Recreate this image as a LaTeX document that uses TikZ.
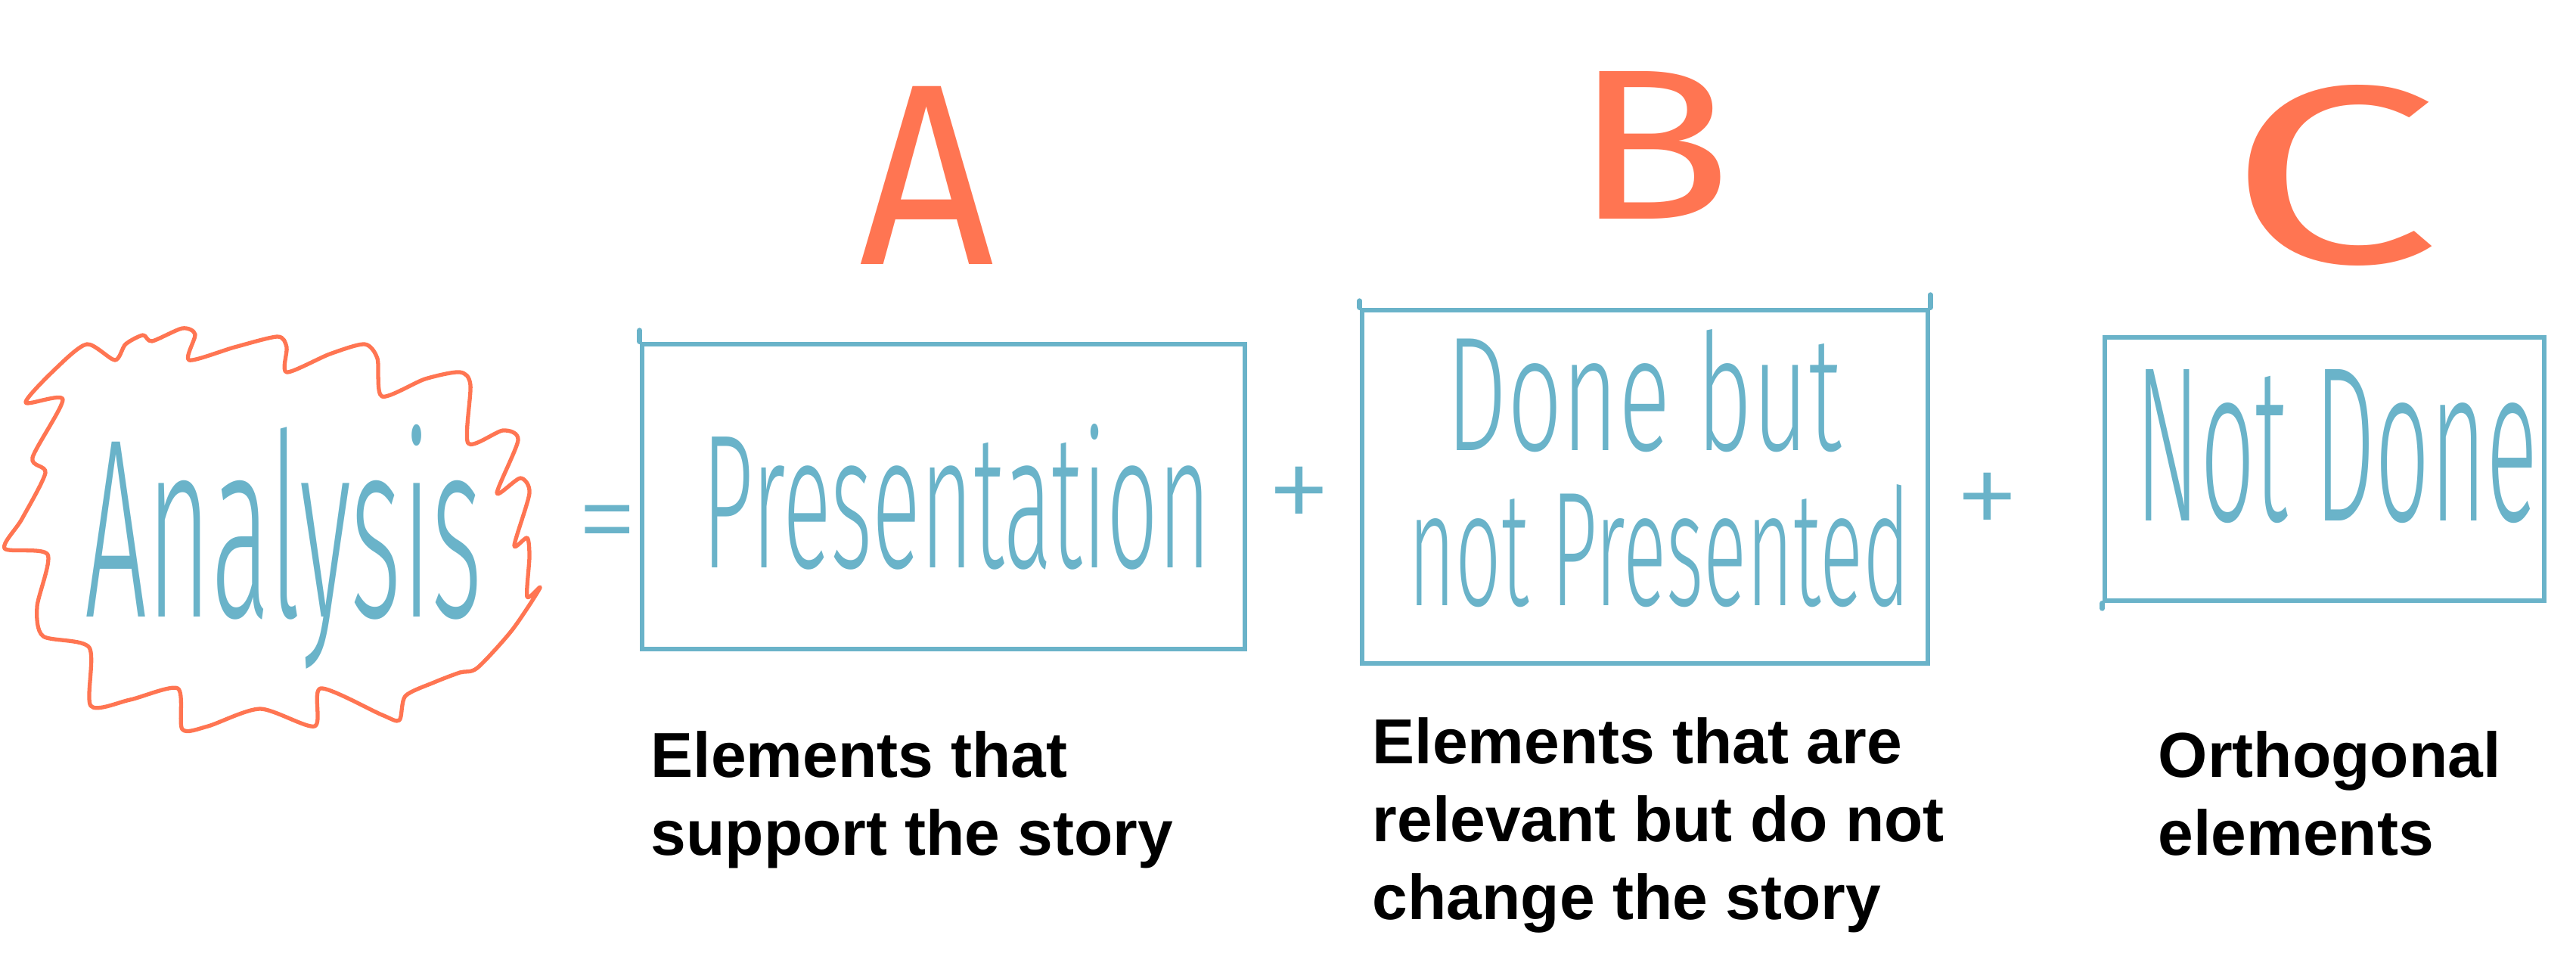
\documentclass[tikz,border=0pt]{standalone}
\usepackage{fontspec}
\usepackage{graphicx}
\setmainfont{Liberation Sans}
\newfontfamily\handfont{Fira Sans Light}
\newfontfamily\penfont{Fira Sans}
\usetikzlibrary{calc}
\definecolor{penteal}{HTML}{6AB3C9}
\definecolor{penorange}{HTML}{FF7552}
\tikzset{
	penbox/.style={draw=penteal,line width=1.9pt,inner sep=0pt},
	pentick/.style={draw=penteal,line width=1.9pt,line cap=round},
	handtext/.style={text=penteal,inner sep=0pt,font=\handfont},
	bigletter/.style={text=penorange,inner sep=0pt,font=\penfont},
	caption/.style={align=left,inner sep=0pt,anchor=north west,
		font=\fontsize{23.9pt}{29.3pt}\selectfont\bfseries},
	cloudline/.style={draw=penorange,line width=1.5pt,line join=round}
}

\begin{document}
\begin{tikzpicture}[x=1cm,y=-1cm]
	\useasboundingbox (0,0) rectangle (34.06,12.73);
	% the analysis cloud
	\draw[cloudline] plot[smooth cycle,tension=0.45] coordinates {
		(1.52,4.76) (1.66,4.55) (1.89,4.43) (2.01,4.51) (2.41,4.34) (2.58,4.42)
		(2.50,4.76) (3.10,4.59) (3.67,4.45) (3.79,4.59) (3.79,4.92) (4.36,4.68)
		(4.82,4.55) (4.99,4.74) (5.05,5.24) (5.62,5.01) (6.08,4.92) (6.22,5.09)
		(6.19,5.86) (6.65,5.69) (6.85,5.82) (6.57,6.52) (6.88,6.32) (7.00,6.52)
		(6.80,7.21) (6.97,7.11) (7.00,7.36) (6.97,7.89) (7.14,7.77) (6.77,8.33)
		(6.31,8.83) (6.08,8.89) (5.74,9.02) (5.36,9.20) (5.28,9.52) (5.05,9.45)
		(4.24,9.10) (4.16,9.60) (3.44,9.37) (2.75,9.60) (2.41,9.64) (2.35,9.10)
		(1.72,9.25) (1.20,9.33) (1.18,8.56) (0.57,8.41) (0.49,8.02) (0.63,7.33)
		(0.06,7.25) (0.29,6.86) (0.60,6.25) (0.43,6.05) (0.83,5.28) (0.34,5.32)
		(0.75,4.86) (1.15,4.55)};
	\node[handtext,anchor=base west] (anaText) at (1.12,8.15)
		{\resizebox{5.25cm}{2.54cm}{Analysis}};
	\node[handtext] (eqSign) at (8.03,7.05) {\fontsize{47pt}{47pt}\selectfont =};
	% the three boxes
	\node[penbox,minimum width=7.97cm,minimum height=4.03cm] (boxA) at (12.475,6.565) {};
	\node[penbox,minimum width=7.48cm,minimum height=4.67cm] (boxB) at (21.75,6.435) {};
	\node[penbox,minimum width=5.81cm,minimum height=3.48cm] (boxC) at (30.735,6.20) {};
	\draw[pentick] (boxA.north west) -- ++(0,-0.15);
	\draw[pentick] (boxB.north west) -- ++(0,-0.09);
	\draw[pentick] (boxB.north east) -- ++(0,-0.17);
	\draw[pentick] (boxC.south west) -- ++(0,0.07);
	\node[handtext,anchor=base west] (presText) at (9.28,7.50)
		{\resizebox{6.72cm}{1.9cm}{Presentation}};
	\node[handtext,anchor=base west] (doneText) at (19.12,5.95)
		{\resizebox{5.22cm}{1.6cm}{Done but}};
	\node[handtext,anchor=base west] (notPresText) at (18.62,8.00)
		{\resizebox{6.63cm}{1.6cm}{not Presented}};
	\node[handtext,anchor=base west] (notDoneText) at (28.23,6.88)
		{\resizebox{5.32cm}{2.0cm}{Not Done}};
	\node[handtext] (plusA) at (17.18,6.62) {\fontsize{50pt}{50pt}\selectfont +};
	\node[handtext] (plusB) at (26.28,6.70) {\fontsize{50pt}{50pt}\selectfont +};
	% letters over the boxes
	\node[bigletter,anchor=south west] (letA) at (11.36,3.50) {\resizebox{1.78cm}{2.35cm}{A}};
	\node[bigletter,anchor=south west] (letB) at (20.80,2.90) {\resizebox{2.10cm}{1.95cm}{B}};
	\node[bigletter,anchor=south west] (letC) at (29.45,3.52) {\resizebox{2.80cm}{2.35cm}{C}};
	% captions
	\node[caption] (capA) at (8.60,9.66) {Elements that\\support the story};
	\node[caption] (capB) at (18.14,9.48) {Elements that are\\relevant but do not\\change the story};
	\node[caption] (capC) at (28.53,9.66) {Orthogonal\\elements};
\end{tikzpicture}
\end{document}
